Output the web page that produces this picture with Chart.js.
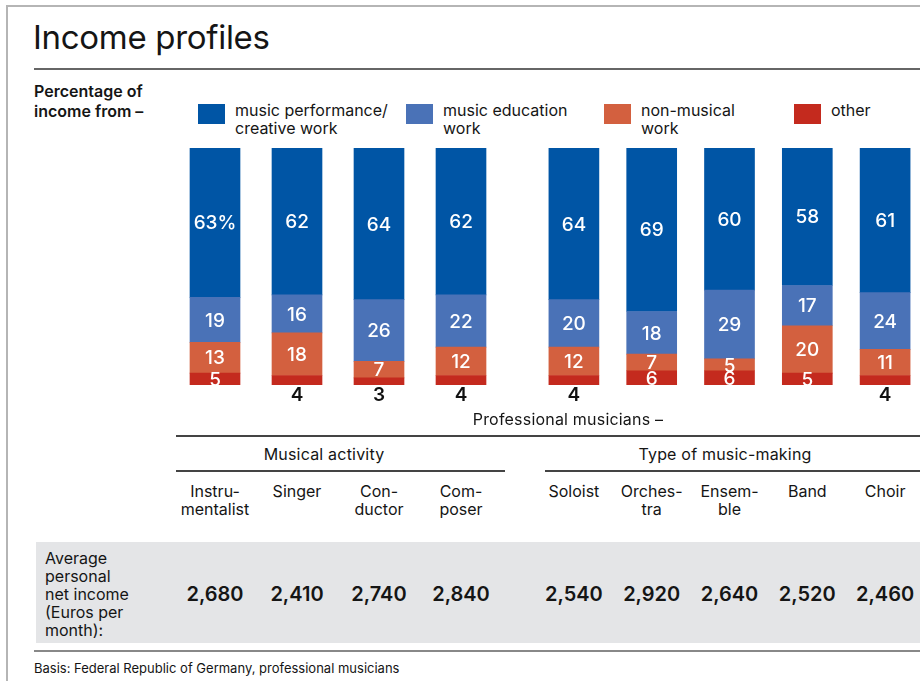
<!DOCTYPE html>
<html>
<head>
<meta charset="utf-8">
<script src="https://cdn.jsdelivr.net/npm/chart.js@4.4.1/dist/chart.umd.min.js"></script>
<style>
  body { margin: 0; width: 920px; height: 681px; overflow: hidden; background: #fff; position: relative;
         font-family: Inter, "Noto Sans", "Liberation Sans", sans-serif; color: #151515; }
  .abs { position: absolute; }
  .line { position: absolute; height: 0; }
  .t16 { font-size: 16px; line-height: 18px; white-space: nowrap; }
  .swatch { position: absolute; width: 27px; height: 20px; }
  .col { position: absolute; transform: translateX(-50%); text-align: center; }
  canvas { position: absolute; }
</style>
</head>
<body>
<!-- frame -->
<div class="line" style="left:7px; top:5px; width:913px; border-top:2px solid #b5b5b5;"></div>
<div class="abs" style="left:6px; top:5px; width:0; height:676px; border-left:2px solid #b5b5b5;"></div>

<div class="abs" style="left:33px; top:17px; font-size:33px; line-height:40px; font-weight:400; letter-spacing:-0.3px;">Income profiles</div>
<div class="line" style="left:34px; top:68px; width:886px; border-top:2px solid #666;"></div>

<div class="abs t16" style="left:34px; top:81px; line-height:20px; font-weight:600;">Percentage of<br>income from –</div>
<div id="legend"></div>

<canvas id="chartA" width="328" height="265" style="left:174px; top:148px;"></canvas>
<canvas id="chartB" width="389" height="265" style="left:535px; top:148px;"></canvas>

<div class="abs t16" style="left:568px; top:410px; transform:translateX(-50%); letter-spacing:0.2px;">Professional musicians –</div>
<div class="line" style="left:176px; top:435px; width:744px; border-top:2px solid #444;"></div>
<div class="abs t16" style="left:324px; top:445px; transform:translateX(-50%); letter-spacing:0.2px;">Musical activity</div>
<div class="abs t16" style="left:725px; top:445px; transform:translateX(-50%); letter-spacing:0.2px;">Type of music-making</div>
<div class="line" style="left:176px; top:470px; width:329px; border-top:2px solid #444;"></div>
<div class="line" style="left:545px; top:470px; width:375px; border-top:2px solid #444;"></div>

<div class="abs" style="left:36px; top:542px; width:884px; height:101px; background:#e4e5e7;"></div>
<div class="abs t16" style="left:45px; top:549px;">Average<br>personal<br>net income<br>(Euros per<br>month):</div>
<div id="cols"></div>

<div class="line" style="left:34px; top:650px; width:886px; border-top:2px solid #888;"></div>
<div class="abs" style="left:34px; top:660px; font-size:13px; line-height:16px;">Basis: Federal Republic of Germany, professional musicians</div>

<script>
// categories
const activityLabels = [['Instru-', 'mentalist'], ['Singer'], ['Con-', 'ductor'], ['Com-', 'poser']];
const typeLabels = [['Soloist'], ['Orches-', 'tra'], ['Ensem-', 'ble'], ['Band'], ['Choir']];

// percentage of income from ... (group 1: musical activity, group 2: type of music-making)
const performanceA = [63, 62, 64, 62];
const educationA = [19, 16, 26, 22];
const nonMusicalA = [13, 18, 7, 12];
const otherA = [5, 4, 3, 4];

const performanceB = [64, 69, 60, 58, 61];
const educationB = [20, 18, 29, 17, 24];
const nonMusicalB = [12, 7, 5, 20, 11];
const otherB = [4, 6, 6, 5, 4];

// average personal net income (Euros per month)
const incomeA = ['2,680', '2,410', '2,740', '2,840'];
const incomeB = ['2,540', '2,920', '2,640', '2,520', '2,460'];

const seriesNames = [['music performance/', 'creative work'], ['music education', 'work'], ['non-musical', 'work'], ['other']];
const colors = ['#0055a5', '#4a72b7', '#d3603f', '#c42a1e'];
const legendX = [198, 406, 604, 794];

// legend
const legend = document.getElementById('legend');
seriesNames.forEach((name, i) => {
  const sw = document.createElement('div');
  sw.className = 'swatch';
  sw.style.left = legendX[i] + 'px';
  sw.style.top = '104px';
  sw.style.background = colors[i];
  legend.appendChild(sw);
  const tx = document.createElement('div');
  tx.className = 'abs t16';
  tx.style.left = (legendX[i] + 37) + 'px';
  tx.style.top = '101px';
  tx.innerHTML = name.join('<br>');
  legend.appendChild(tx);
});

// white numbers inside the segments, small "other" values below the bar
const segmentLabels = {
  id: 'segmentLabels',
  afterDatasetsDraw(chart) {
    const ctx = chart.ctx;
    ctx.save();
    ctx.textAlign = 'center';
    ctx.textBaseline = 'middle';
    chart.data.datasets.forEach((ds, di) => {
      chart.getDatasetMeta(di).data.forEach((bar, i) => {
        const v = ds.data[i];
        let text = String(v);
        if (ds.percentFirst && i === 0) text += '%';
        if (v < 5) {
          ctx.fillStyle = '#111';
          ctx.font = '600 19px Inter, "Noto Sans", sans-serif';
          ctx.fillText(text, bar.x, bar.base + 10);
        } else {
          ctx.fillStyle = '#fff';
          ctx.font = '500 19px Inter, "Noto Sans", sans-serif';
          ctx.fillText(text, bar.x, (bar.y + bar.base) / 2 + 1);
        }
      });
    });
    ctx.restore();
  }
};

function makeChart(id, labels, perf, edu, nonMus, oth, percentFirst) {
  return new Chart(document.getElementById(id), {
    type: 'bar',
    data: {
      labels: labels,
      datasets: [
        { label: 'other', data: oth, backgroundColor: colors[3] },
        { label: 'non-musical work', data: nonMus, backgroundColor: colors[2] },
        { label: 'music education work', data: edu, backgroundColor: colors[1] },
        { label: 'music performance/creative work', data: perf, backgroundColor: colors[0], percentFirst: percentFirst },
      ],
    },
    options: {
      responsive: false,
      animation: false,
      layout: { padding: { top: 0, bottom: 28, left: 0, right: 0 } },
      datasets: { bar: { barThickness: 50, borderWidth: 0 } },
      plugins: { legend: { display: false }, tooltip: { enabled: false } },
      scales: {
        x: { stacked: true, display: false, offset: true },
        y: { stacked: true, display: false, min: 0, max: 100 },
      },
    },
    plugins: [segmentLabels],
  });
}

const chartA = makeChart('chartA', activityLabels, performanceA, educationA, nonMusicalA, otherA, true);
const chartB = makeChart('chartB', typeLabels, performanceB, educationB, nonMusicalB, otherB, false);

// category names and incomes under each bar
const cols = document.getElementById('cols');
function addColumns(chart, labels, incomes) {
  const left = chart.canvas.offsetLeft;
  chart.getDatasetMeta(0).data.forEach((bar, i) => {
    const x = left + bar.x;
    const name = document.createElement('div');
    name.className = 'col t16';
    name.style.left = x + 'px';
    name.style.top = '482px';
    name.innerHTML = labels[i].join('<br>');
    cols.appendChild(name);
    const inc = document.createElement('div');
    inc.className = 'col';
    inc.style.left = x + 'px';
    inc.style.top = '582px';
    inc.style.fontSize = '20px';
    inc.style.lineHeight = '24px';
    inc.style.fontWeight = '600';
    inc.textContent = incomes[i];
    cols.appendChild(inc);
  });
}
addColumns(chartA, activityLabels, incomeA);
addColumns(chartB, typeLabels, incomeB);
</script>
</body>
</html>
